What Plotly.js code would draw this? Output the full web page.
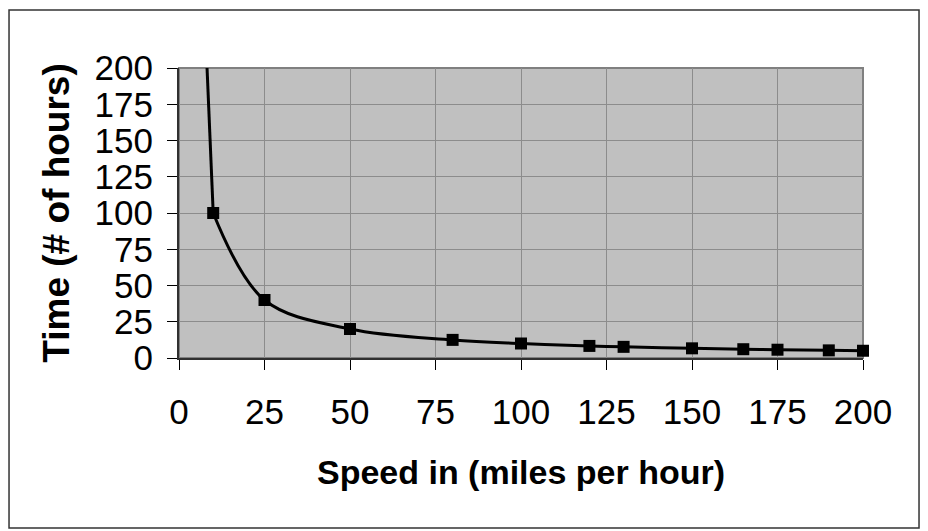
<!DOCTYPE html>
<html>
<head>
<meta charset="utf-8">
<script src="https://cdn.plot.ly/plotly-3.0.1.min.js"></script>
<style>html,body{margin:0;padding:0;background:#fff;}#chart{width:928px;height:531px;}</style>
</head>
<body>
<div id="chart"></div>
<script>
// Data
const speedMph = [10, 25, 50, 80, 100, 120, 130, 150, 165, 175, 190, 200];
const timeHours = [100, 40, 20, 12.5, 10, 8.33, 7.69, 6.67, 6.06, 5.71, 5.26, 5];
// where the curve leaves the top of the plot (estimated; the part above 200 is clipped)
const leadSpeed = [8.1, 7.3];
const leadHours = [200, 250];
const xTicks = [0, 25, 50, 75, 100, 125, 150, 175, 200];
const yTicks = [0, 25, 50, 75, 100, 125, 150, 175, 200];

const font = "Liberation Sans, Arial, sans-serif";

const leadTrace = {
  x: [speedMph[0]].concat(leadSpeed),
  y: [timeHours[0]].concat(leadHours),
  type: 'scatter',
  mode: 'lines',
  line: {color: '#000', width: 3, shape: 'linear'},
  cliponaxis: true,
  hoverinfo: 'skip',
  showlegend: false
};
const lineTrace = {
  x: speedMph,
  y: timeHours,
  type: 'scatter',
  mode: 'lines',
  line: {color: '#000', width: 3, shape: 'spline', smoothing: 1},
  cliponaxis: true,
  hoverinfo: 'skip',
  showlegend: false
};
const markerTrace = {
  x: speedMph,
  y: timeHours,
  type: 'scatter',
  mode: 'markers',
  marker: {symbol: 'square', size: 12, color: '#000'},
  cliponaxis: false,
  showlegend: false
};

const layout = {
  width: 928,
  height: 531,
  margin: {l: 179, r: 65, t: 68, b: 173, autoexpand: false},
  paper_bgcolor: '#fff',
  plot_bgcolor: '#c0c0c0',
  showlegend: false,
  font: {family: font, color: '#000'},
  xaxis: {
    range: [0, 200],
    tickvals: xTicks,
    ticktext: xTicks.map(String),
    ticks: 'outside', ticklen: 10, tickwidth: 1, tickcolor: '#000',
    ticklabelstandoff: 12,
    tickfont: {family: font, size: 35, color: '#000'},
    showgrid: true, gridcolor: '#8c8c8c', gridwidth: 1,
    showline: true, linecolor: '#303030', linewidth: 2,
    zeroline: false,
    automargin: false,
    title: {text: 'Speed in (miles per hour)', font: {family: font, size: 34, weight: 'bold', color: '#000'}, standoff: 30}
  },
  yaxis: {
    range: [0, 200],
    tickvals: yTicks,
    ticktext: yTicks.map(String),
    ticks: 'outside', ticklen: 10, tickwidth: 1, tickcolor: '#000',
    ticklabelstandoff: 7,
    tickfont: {family: font, size: 35, color: '#000'},
    showgrid: true, gridcolor: '#8c8c8c', gridwidth: 1,
    showline: true, linecolor: '#303030', linewidth: 2,
    zeroline: false,
    automargin: false,
    title: {text: 'Time (# of hours)', font: {family: font, size: 37, weight: 'bold', color: '#000'}, standoff: 14}
  },
  shapes: [
    {type: 'rect', xref: 'paper', yref: 'paper', x0: 0, x1: 1, y0: 0, y1: 1,
     line: {color: '#808080', width: 2}, fillcolor: 'rgba(0,0,0,0)', layer: 'between'},
    {type: 'rect', xref: 'paper', yref: 'paper', x0: -0.2485, x1: 1.0819, y0: -0.586, y1: 1.2,
     line: {color: '#333', width: 1.5}, fillcolor: 'rgba(0,0,0,0)', layer: 'above'}
  ]
};

Plotly.newPlot('chart', [leadTrace, lineTrace, markerTrace], layout, {displayModeBar: false, staticPlot: true});
</script>
</body>
</html>
